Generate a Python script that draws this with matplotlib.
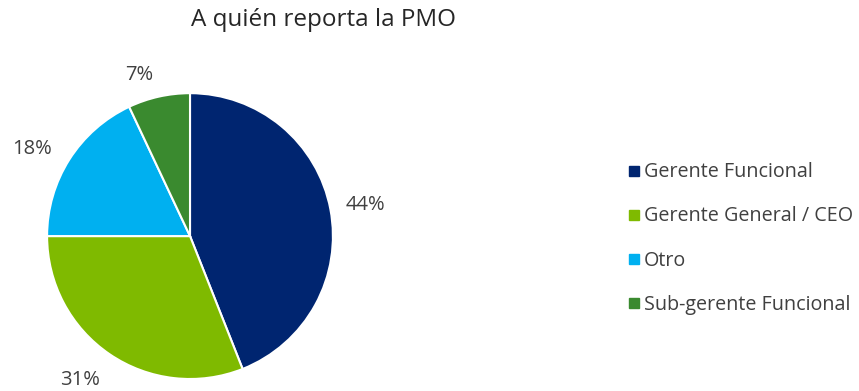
import numpy as np
import matplotlib
matplotlib.use("Agg")
import matplotlib.pyplot as plt
from matplotlib.lines import Line2D

plt.rcParams['font.family'] = ['Open Sans', 'DejaVu Sans']

categories = ["Gerente Funcional", "Gerente General / CEO", "Otro", "Sub-gerente Funcional"]
shares = [44, 31, 18, 7]
colors = ["#002570", "#7FBA00", "#00B0F0", "#3A8A2F"]
text_color = "#404040"

# outside-end label placement: radius (in pie radii) and angular nudge per slice
label_radius = [1.243, 1.27, 1.261, 1.181]
label_nudge = [-0.8, -3.1, 3.6, 5.0]

fig = plt.figure(figsize=(8.59, 3.91), dpi=100)
ax = fig.add_axes([0.0547, 0.0307, 0.333, 0.731])

wedges, _ = ax.pie(
    shares, colors=colors, startangle=90, counterclock=False,
    wedgeprops=dict(edgecolor="white", linewidth=1.5),
)
for w, v, r, d in zip(wedges, shares, label_radius, label_nudge):
    mid = np.deg2rad((w.theta1 + w.theta2) / 2 + d)
    ax.text(r * np.cos(mid), r * np.sin(mid), f"{v}%", ha="center", va="center",
            fontsize=14.5, color=text_color, clip_on=False)
ax.set_xlim(-1, 1)
ax.set_ylim(-1, 1)
ax.set_aspect("equal")

fig.text(0.377, 0.948, "A quién reporta la PMO", ha="center", va="center",
         fontsize=17.5, color="#262626")

handles = [Line2D([0], [0], marker="s", linestyle="none", markersize=7.5,
                  markerfacecolor=c, markeredgecolor=c) for c in colors]
fig.legend(handles, categories, loc="center left", bbox_to_anchor=(0.709, 0.39),
           frameon=False, fontsize=14.2, labelcolor=text_color,
           handlelength=0.7, handletextpad=0.15, labelspacing=1.22)

fig.savefig("out.png", dpi=100)
